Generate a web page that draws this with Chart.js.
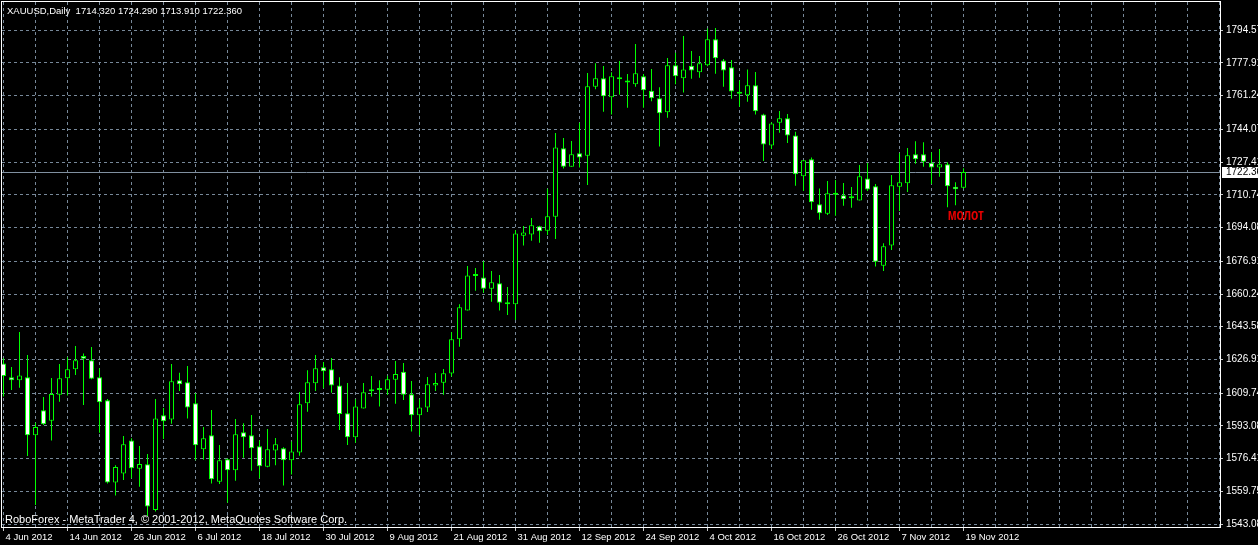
<!DOCTYPE html>
<html>
<head>
<meta charset="utf-8">
<title>XAUUSD,Daily</title>
<script src="https://cdn.jsdelivr.net/npm/chart.js@4.4.0/dist/chart.umd.min.js"></script>
<style>
  html,
  body {
    margin: 0;
    padding: 0;
    background: #000;
    overflow: hidden;
  }
</style>
</head>
<body>
<canvas id="chart" width="1258" height="545"></canvas>
<script>
/*=========================================================
DATA
=========================================================*/

// one label every 8 bars, starting at bar 0
const dateLabels = [
  "4 Jun 2012", "14 Jun 2012", "26 Jun 2012", "6 Jul 2012",
  "18 Jul 2012", "30 Jul 2012", "9 Aug 2012", "21 Aug 2012",
  "31 Aug 2012", "12 Sep 2012", "24 Sep 2012", "4 Oct 2012",
  "16 Oct 2012", "26 Oct 2012", "7 Nov 2012", "19 Nov 2012",
];

const priceTicks = [
  1794.57, 1777.91, 1761.24, 1744.07, 1727.41, 1710.74, 1694.08, 1676.91,
  1660.24, 1643.58, 1626.91, 1609.74, 1593.08, 1576.41, 1559.75, 1543.08,
];

const openPrices = [
  1624.9, 1617.8, 1616.3, 1617.8, 1588.3, 1601.0, 1595.7, 1609.0, 1617.3, 1621.9,
  1628.7, 1626.5, 1617.8, 1606.1, 1564.3, 1568.8, 1585.7, 1571.3, 1573.5, 1550.3,
  1598.5, 1596.3, 1616.3, 1615.3, 1604.6, 1581.2, 1588.3, 1564.7, 1576.1, 1570.5,
  1589.8, 1588.3, 1582.7, 1572.3, 1580.6, 1581.7, 1575.6, 1579.5, 1604.6, 1614.8,
  1622.9, 1621.9, 1613.7, 1599.5, 1587.3, 1602.0, 1610.7, 1611.4, 1611.5, 1616.6,
  1620.7, 1609.2, 1598.5, 1602.5, 1613.7, 1615.1, 1619.7, 1637.2, 1651.9, 1669.4,
  1668.7, 1662.9, 1665.7, 1655.0, 1655.0, 1689.9, 1690.6, 1694.7, 1692.5, 1699.6,
  1734.4, 1725.1, 1731.9, 1730.7, 1765.8, 1770.1, 1760.4, 1770.6, 1769.0, 1767.0,
  1771.1, 1763.8, 1759.9, 1752.8, 1776.7, 1770.1, 1776.5, 1773.1, 1776.7, 1789.9,
  1779.1, 1775.7, 1762.2, 1761.4, 1766.5, 1751.7, 1735.8, 1747.5, 1749.7, 1741.0,
  1720.2, 1728.8, 1705.9, 1701.1, 1710.8, 1710.5, 1709.0, 1707.9, 1719.1, 1715.1,
  1674.6, 1684.9, 1714.9, 1716.6, 1731.4, 1731.4, 1727.1, 1724.7, 1726.3, 1714.9,
  1714.32,
];

const highPrices = [
  1627.5, 1623.1, 1640.9, 1629.2, 1594.7, 1607.8, 1617.5, 1624.6, 1628.0, 1633.8,
  1629.9, 1633.3, 1622.4, 1606.8, 1573.0, 1587.9, 1586.8, 1582.8, 1578.8, 1606.8,
  1602.2, 1624.6, 1620.2, 1623.6, 1609.7, 1592.5, 1601.2, 1583.4, 1576.5, 1596.6,
  1594.4, 1598.6, 1585.6, 1591.5, 1586.9, 1582.2, 1585.2, 1610.4, 1621.4, 1629.2,
  1625.6, 1627.6, 1617.8, 1614.9, 1606.6, 1614.9, 1618.5, 1616.3, 1618.6, 1626.1,
  1625.1, 1616.0, 1606.6, 1618.0, 1620.0, 1622.1, 1640.9, 1655.0, 1674.5, 1673.5,
  1676.9, 1671.9, 1669.9, 1663.8, 1692.8, 1694.9, 1698.9, 1695.0, 1713.9, 1742.2,
  1739.7, 1738.2, 1747.5, 1772.8, 1777.7, 1776.4, 1773.1, 1778.9, 1772.3, 1787.5,
  1772.3, 1774.8, 1765.5, 1780.4, 1783.1, 1791.6, 1784.0, 1781.4, 1795.4, 1795.7,
  1779.9, 1779.4, 1768.9, 1774.6, 1773.3, 1752.0, 1747.7, 1753.4, 1751.9, 1742.9,
  1728.5, 1729.8, 1714.0, 1717.8, 1718.3, 1716.8, 1714.7, 1725.9, 1726.9, 1716.3,
  1686.1, 1720.9, 1731.9, 1734.6, 1738.0, 1737.5, 1732.4, 1734.1, 1727.3, 1717.1,
  1724.29,
];

const lowPrices = [
  1608.0, 1611.4, 1612.5, 1577.8, 1552.8, 1593.5, 1585.6, 1605.4, 1608.5, 1619.0,
  1603.7, 1616.8, 1589.6, 1563.7, 1557.6, 1565.5, 1566.4, 1562.1, 1547.2, 1549.5,
  1586.4, 1594.2, 1610.9, 1596.8, 1575.6, 1575.9, 1563.7, 1563.5, 1554.0, 1565.2,
  1576.9, 1570.3, 1566.4, 1572.0, 1573.0, 1562.7, 1568.3, 1577.9, 1600.3, 1610.9,
  1612.2, 1610.0, 1591.0, 1583.4, 1584.5, 1602.0, 1608.0, 1602.9, 1608.8, 1604.4,
  1606.3, 1590.2, 1588.3, 1600.2, 1610.9, 1609.0, 1618.2, 1633.4, 1651.9, 1661.9,
  1660.9, 1656.3, 1651.8, 1649.6, 1647.0, 1684.9, 1687.4, 1686.4, 1690.3, 1688.3,
  1724.1, 1725.1, 1724.6, 1715.7, 1764.5, 1753.1, 1751.6, 1761.7, 1755.1, 1765.8,
  1755.1, 1758.4, 1735.3, 1750.0, 1767.0, 1762.8, 1769.9, 1770.4, 1776.2, 1772.4,
  1765.8, 1759.7, 1755.6, 1758.2, 1751.6, 1728.0, 1734.1, 1742.4, 1737.1, 1715.4,
  1712.7, 1703.2, 1698.1, 1700.5, 1700.1, 1705.2, 1704.2, 1707.9, 1712.7, 1674.2,
  1671.9, 1682.7, 1702.5, 1712.2, 1726.6, 1725.1, 1716.3, 1720.0, 1704.4, 1705.4,
  1713.91,
];

const closePrices = [
  1618.5, 1616.3, 1618.8, 1588.3, 1592.5, 1593.9, 1609.3, 1617.3, 1621.9, 1626.5,
  1627.3, 1617.1, 1605.1, 1564.2, 1572.2, 1583.7, 1571.5, 1573.7, 1552.1, 1596.9,
  1595.4, 1615.8, 1614.3, 1602.5, 1583.2, 1586.8, 1565.9, 1575.6, 1570.5, 1588.8,
  1587.3, 1581.7, 1572.5, 1581.2, 1583.7, 1575.6, 1580.1, 1604.1, 1615.3, 1622.4,
  1620.9, 1613.7, 1599.1, 1587.3, 1603.0, 1610.2, 1611.7, 1611.5, 1616.8, 1619.5,
  1609.0, 1598.5, 1602.5, 1614.3, 1614.9, 1619.9, 1637.2, 1653.5, 1669.7, 1669.6,
  1662.9, 1666.2, 1655.8, 1655.4, 1691.1, 1691.6, 1695.2, 1692.2, 1699.8, 1734.9,
  1725.1, 1731.4, 1729.7, 1766.0, 1770.1, 1760.9, 1771.1, 1769.6, 1768.0, 1772.6,
  1764.0, 1759.9, 1752.3, 1776.7, 1771.1, 1774.6, 1774.1, 1777.7, 1789.9, 1780.3,
  1774.1, 1763.4, 1762.6, 1766.5, 1753.3, 1736.4, 1747.1, 1749.7, 1741.0, 1721.2,
  1728.3, 1706.9, 1701.3, 1711.5, 1711.2, 1708.5, 1709.2, 1720.2, 1713.5, 1676.7,
  1684.6, 1715.6, 1717.1, 1730.9, 1728.8, 1727.6, 1724.7, 1726.3, 1715.1, 1713.6,
  1722.36,
];

const lastPrice = 1722.36;

const titleText = "XAUUSD,Daily  1714.320 1724.290 1713.910 1722.360";
const footerText = "RoboForex - MetaTrader 4, \u00A9 2001-2012, MetaQuotes Software Corp.";
const noteText = "молот";

/*=========================================================
HELPERS
=========================================================*/

const BAR_PX = 8;
const GRID_STEP = 4;
const LABEL_STEP = 8;

function isLabelBar(value) {
  return value % LABEL_STEP === 0 && value / LABEL_STEP < dateLabels.length;
}

function dateLabel(value) {
  return isLabelBar(value) ? dateLabels[value / LABEL_STEP] : "";
}

/*=========================================================
OVERLAY PLUGIN
=========================================================*/

const overlayPlugin = {
  id: "overlay",

  beforeDatasetsDraw(chart) {
    const { ctx, chartArea, scales } = chart;

    const y = Math.round(scales.y.getPixelForValue(lastPrice)) + 0.5;

    ctx.save();
    ctx.strokeStyle = "#8090a0";
    ctx.lineWidth = 1;
    ctx.beginPath();
    ctx.moveTo(chartArea.left, y);
    ctx.lineTo(chartArea.right, y);
    ctx.stroke();
    ctx.restore();
  },

  afterDraw(chart) {
    const { ctx, chartArea, scales } = chart;

    ctx.save();

    // frame
    ctx.strokeStyle = "#ffffff";
    ctx.lineWidth = 1;
    ctx.strokeRect(
      chartArea.left - 0.5,
      chartArea.top - 0.5,
      chartArea.right - chartArea.left + 1,
      chartArea.bottom - chartArea.top + 1,
    );

    // last price tag
    const py = Math.round(scales.y.getPixelForValue(lastPrice));
    ctx.fillStyle = "#ffffff";
    ctx.fillRect(chartArea.right + 2, py - 5, 40, 11);
    ctx.fillStyle = "#000000";
    ctx.font = "10px 'Liberation Sans'";
    ctx.textBaseline = "middle";
    ctx.textAlign = "left";
    ctx.fillText(lastPrice.toFixed(2), chartArea.right + 6, py + 0.5);

    // title
    ctx.fillStyle = "#ffffff";
    ctx.font = "9.5px 'Liberation Sans'";
    ctx.fillText(titleText, 7, 11);

    // footer
    ctx.font = "11px 'Liberation Sans'";
    ctx.textBaseline = "alphabetic";
    ctx.fillText(footerText, 5, 523);

    // hammer note, a tall narrow face like the terminal font
    const nx = scales.x.getPixelForValue(120.3);
    const ny = scales.y.getPixelForValue(1700.2);
    ctx.fillStyle = "#e60000";
    ctx.font = "bold 12px 'Liberation Sans'";
    ctx.textAlign = "center";
    ctx.textBaseline = "middle";
    ctx.translate(nx, ny);
    ctx.scale(1, 1.4);
    ctx.fillText(noteText, 0, 0);

    ctx.restore();
  },
};

/*=========================================================
CHART
=========================================================*/

Chart.defaults.font.family = "'Liberation Sans'";
Chart.defaults.font.size = 9.5;

const bodies = openPrices.map((o, i) => ({ x: i, y: [o, closePrices[i]] }));
const wicks = lowPrices.map((l, i) => ({ x: i, y: [l, highPrices[i]] }));

const gridBars = [];
for (let v = 0; v <= 152; v += GRID_STEP) gridBars.push(v);

const canvas = document.getElementById("chart");
const plotWidth = 1258 - 38 - 2;

new Chart(canvas, {
  type: "bar",

  data: {
    datasets: [
      {
        label: "body",
        data: bodies,
        order: 0,
        grouped: false,
        barThickness: 5,
        minBarLength: 2,
        backgroundColor: (c) =>
          closePrices[c.dataIndex] < openPrices[c.dataIndex] ? "#ffffff" : "#000000",
        borderColor: "#00ff00",
        borderWidth: 1,
        borderSkipped: false,
        inflateAmount: 0,
      },
      {
        label: "wick",
        data: wicks,
        order: 1,
        grouped: false,
        barThickness: 1,
        backgroundColor: "#00ff00",
        borderWidth: 0,
        inflateAmount: 0,
      },
    ],
  },

  options: {
    responsive: false,
    animation: false,

    layout: {
      autoPadding: false,
      padding: { left: 2, top: 2, right: 0, bottom: 0 },
    },

    plugins: {
      legend: { display: false },
      tooltip: { enabled: false },
    },

    scales: {
      x: {
        type: "linear",
        offset: false,
        min: (2 - 3.5) / BAR_PX,
        max: (2 - 3.5) / BAR_PX + plotWidth / BAR_PX,

        afterBuildTicks: (scale) => {
          scale.ticks = gridBars.map((v) => ({ value: v }));
        },

        afterFit: (scale) => {
          scale.height = 18;
          scale.paddingLeft = 0;
          scale.paddingRight = 0;
        },

        grid: {
          offset: false,
          color: "#778899",
          lineWidth: 1,
          tickLength: 4,
          tickColor: (c) => (c.tick && isLabelBar(c.tick.value) ? "#c8c8c8" : "rgba(0,0,0,0)"),
        },

        border: { display: false, dash: [3, 3] },

        ticks: {
          autoSkip: false,
          maxRotation: 0,
          align: "start",
          labelOffset: 2,
          padding: 1,
          color: "#ffffff",
          callback: (value) => dateLabel(value),
        },
      },

      y: {
        type: "linear",
        position: "right",
        min: 1541.6,
        max: 1808.93,

        afterBuildTicks: (scale) => {
          scale.ticks = priceTicks.map((v) => ({ value: v }));
        },

        afterFit: (scale) => {
          scale.width = 38;
          scale.paddingTop = 0;
          scale.paddingBottom = 0;
        },

        grid: {
          color: "#778899",
          lineWidth: 1,
          tickLength: 3,
          tickColor: "#c8c8c8",
        },

        border: { display: false, dash: [3, 3] },

        ticks: {
          autoSkip: false,
          padding: 3,
          color: "#ffffff",
          font: { size: 10 },
          callback: (value) => Number(value).toFixed(2),
        },
      },
    },
  },

  plugins: [overlayPlugin],
});
</script>
</body>
</html>
